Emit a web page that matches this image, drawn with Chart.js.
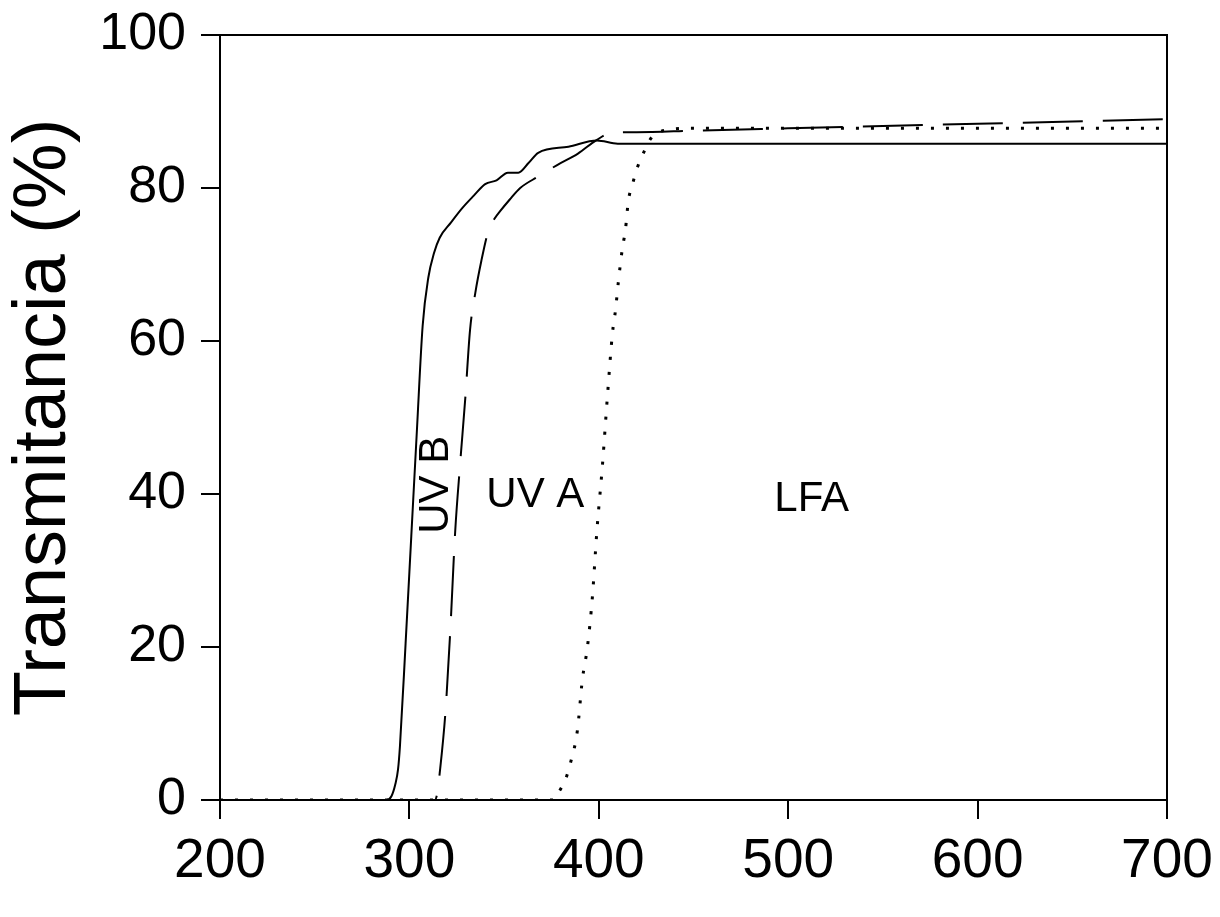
<!DOCTYPE html>
<html>
<head>
<meta charset="utf-8">
<title>Transmitancia</title>
<script src="https://cdn.jsdelivr.net/npm/chart.js@4/dist/chart.umd.min.js"></script>
<style>
  html, body { margin: 0; padding: 0; background: #fff; }
  canvas { display: block; }
</style>
</head>
<body>
<canvas id="grafico" width="1220" height="917"></canvas>
<script>
// longitud de onda (nm) y transmitancia (%) de cada curva
const wlSolida = [200, 250, 288, 290.5, 292.5, 294, 295, 298, 301, 304, 307, 310, 313, 316, 322, 328, 334, 340, 346, 352, 357.5, 363, 368, 384, 399, 410, 500, 600, 700];
const tSolida  = [0, 0, 0, 0.5, 2, 4, 7, 20.5, 34.5, 48.5, 62, 68.3, 71.5, 73.5, 75.5, 77.4, 79, 80.5, 81, 82, 82, 83.3, 84.6, 85.4, 86.2, 85.8, 85.8, 85.8, 85.8];

const wlGuiones = [200, 250, 300, 313.5, 314.7, 316, 319, 321.6, 324.2, 326.8, 329.5, 332, 334.8, 338, 341.7, 345, 348, 353, 358.5, 368, 378, 389, 399, 407.7, 420, 450, 500, 550, 600, 650, 700];
const tGuiones  = [0, 0, 0, 0, 0.9, 3.5, 11.4, 22.2, 35.2, 44, 52.5, 61.4, 66.3, 70.5, 74.4, 76, 77, 78.5, 80, 81.5, 83, 84.5, 86.3, 87.3, 87.3, 87.5, 87.8, 88.1, 88.4, 88.7, 89];

const wlPuntos = [200, 300, 350, 376, 378, 380, 382.3, 385, 388.7, 391.3, 394, 396.6, 399, 402, 404.5, 407.2, 408.8, 410.4, 412.5, 414, 415.6, 417.8, 420.4, 423.6, 427, 430, 450, 500, 550, 600, 650, 700];
const tPuntos  = [0, 0, 0, 0, 0.7, 1.5, 2.6, 4.8, 9.1, 15.7, 20, 26.5, 35.2, 44, 52.6, 61, 64, 67.9, 72.2, 74.4, 78.3, 80.5, 82.7, 84.6, 86.3, 87.2, 87.8, 87.8, 87.8, 87.8, 87.8, 87.8];

const xTicks = [200, 300, 400, 500, 600, 700];
const yTicks = [0, 20, 40, 60, 80, 100];

// rótulos de cada región del espectro
const regiones = [
  { texto: "UV B", wl: 314.2, t: 41.2, vertical: true },
  { texto: "UV A", wl: 366.5, t: 39.8, vertical: false },
  { texto: "LFA",  wl: 512.4, t: 39.3, vertical: false }
];

const FUENTE = '"Liberation Sans", Arial, Helvetica, sans-serif';

function puntos(xs, ys) {
  return xs.map((x, i) => ({ x: x, y: ys[i] }));
}

// marco superior/derecho y textos de las regiones
const marcoYRotulos = {
  id: "marcoYRotulos",
  afterDatasetsDraw(chart) {
    const { ctx, chartArea: a, scales } = chart;
    ctx.save();
    ctx.strokeStyle = "#000";
    ctx.lineWidth = 2;
    ctx.beginPath();
    ctx.moveTo(a.left, a.top);
    ctx.lineTo(a.right, a.top);
    ctx.lineTo(a.right, a.bottom);
    ctx.stroke();

    ctx.fillStyle = "#000";
    ctx.font = "42px " + FUENTE;
    ctx.textAlign = "center";
    ctx.textBaseline = "middle";
    regiones.forEach((r) => {
      const px = scales.x.getPixelForValue(r.wl);
      const py = scales.y.getPixelForValue(r.t);
      ctx.save();
      ctx.translate(px, py);
      if (r.vertical) ctx.rotate(-Math.PI / 2);
      ctx.fillText(r.texto, 0, 0);
      ctx.restore();
    });
    ctx.restore();
  }
};

const linea = {
  borderColor: "#000",
  backgroundColor: "#000",
  pointRadius: 0,
  fill: false,
  cubicInterpolationMode: "monotone"
};

new Chart(document.getElementById("grafico").getContext("2d"), {
  type: "line",
  data: {
    datasets: [
      Object.assign({ label: "solida", data: puntos(wlSolida, tSolida), borderWidth: 2 }, linea),
      Object.assign({ label: "guiones", data: puntos(wlGuiones, tGuiones), borderWidth: 2, borderDash: [60, 20] }, linea),
      Object.assign({ label: "puntos", data: puntos(wlPuntos, tPuntos), borderWidth: 3, borderDash: [3, 12] }, linea)
    ]
  },
  options: {
    responsive: false,
    animation: false,
    layout: { padding: { top: 35, right: 53, bottom: 0, left: 0 } },
    plugins: {
      legend: { display: false },
      tooltip: { enabled: false }
    },
    scales: {
      x: {
        type: "linear",
        min: 200,
        max: 700,
        afterBuildTicks: (s) => { s.ticks = xTicks.map((v) => ({ value: v })); },
        afterFit: (s) => {
          s.height = 117;
          s.paddingLeft = 0;
          s.paddingRight = 0;
        },
        ticks: { color: "#000", font: { family: FUENTE, size: 55 }, padding: 10 },
        grid: { drawOnChartArea: false, color: "#000", lineWidth: 2, tickLength: 19 },
        border: { color: "#000", width: 2 }
      },
      y: {
        type: "linear",
        min: 0,
        max: 100,
        afterBuildTicks: (s) => { s.ticks = yTicks.map((v) => ({ value: v })); },
        afterFit: (s) => {
          s.width = 220;
          s.paddingTop = 0;
          s.paddingBottom = 0;
        },
        ticks: { color: "#000", font: { family: FUENTE, size: 52 }, padding: 15 },
        grid: { drawOnChartArea: false, color: "#000", lineWidth: 2, tickLength: 19 },
        border: { color: "#000", width: 2 },
        title: {
          display: true,
          text: "Transmitancia (%)",
          color: "#000",
          font: { family: FUENTE, size: 74 },
          padding: 0
        }
      }
    }
  },
  plugins: [marcoYRotulos]
});
</script>
</body>
</html>
